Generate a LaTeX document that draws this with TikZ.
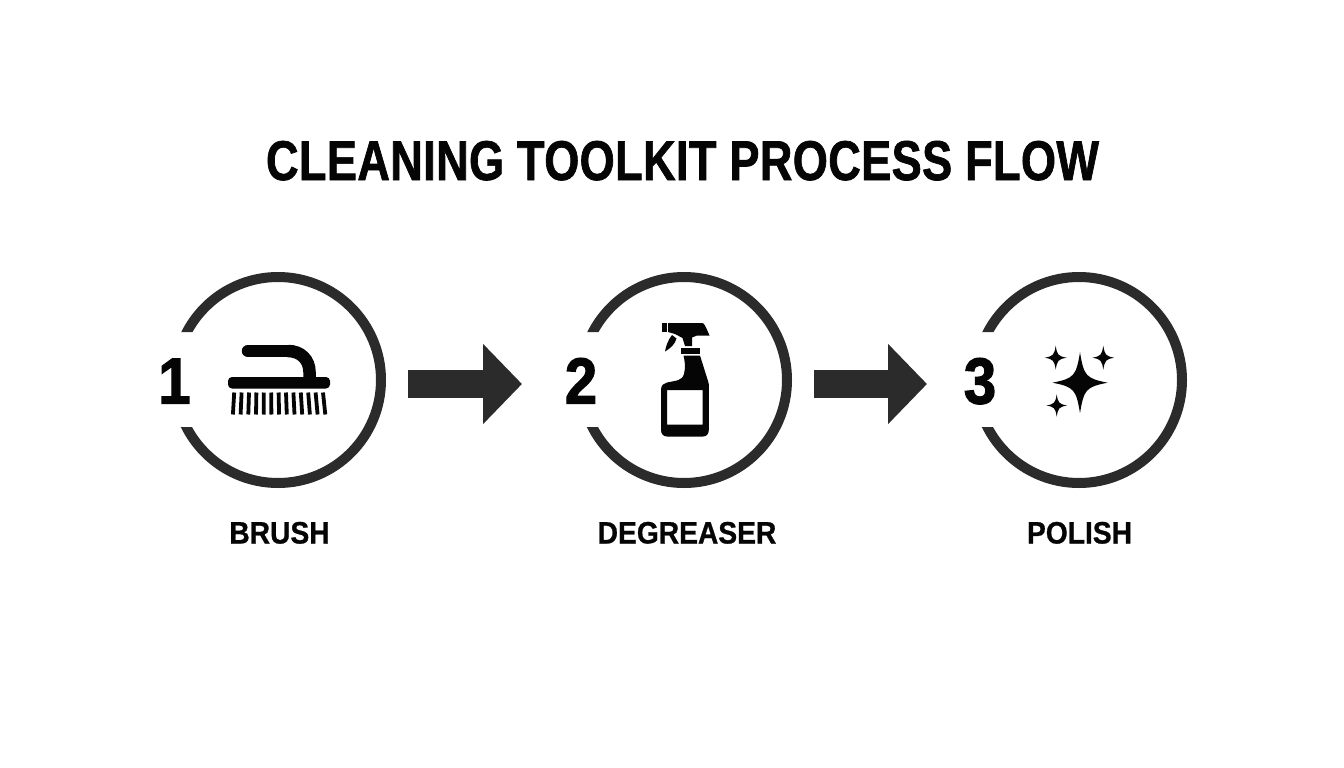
\documentclass[tikz,border=0pt]{standalone}
\usepackage{fontspec}
\usetikzlibrary{arrows.meta}
\newfontfamily\titlefont[FakeStretch=0.805,FakeBold=1.2,LetterSpace=0.7]{Liberation Sans Bold}
\newfontfamily\labelfont[FakeStretch=0.91,FakeBold=0.8]{Liberation Sans Bold}
\newfontfamily\numfont[FakeStretch=0.89,FakeBold=2]{Liberation Sans Bold}
\definecolor{ink}{HTML}{2B2B2B}
\definecolor{iconblack}{HTML}{050505}
\tikzset{
  ringslot/.style={circle,minimum size=216pt,inner sep=0pt,outer sep=0pt},
  ringline/.style={draw=ink,line width=10pt},
  flowarrow/.style={draw=ink,line width=28.5pt,-{Triangle[length=39pt,width=78pt,color=ink]}},
  titletext/.style={anchor=base,inner sep=0pt,text=iconblack,font=\titlefont\fontsize{56}{60}\selectfont},
  steplabel/.style={anchor=base,inner sep=0pt,text=iconblack,font=\labelfont\fontsize{31}{34}\selectfont},
  stepnum/.style={anchor=base,inner sep=0pt,text=iconblack,font=\numfont\fontsize{65}{70}\selectfont},
  iconfill/.style={fill=iconblack,draw=none},
}
\newcommand{\gapring}[1]{%
  \begin{scope}
    \clip (#1,260) -- (#1-125,260) -- (#1-125,332) -- (#1,332) -- (#1,427) -- (#1-125,427) -- (#1-125,500) -- (#1+125,500) -- (#1+125,260) -- cycle;
    \draw[ringline] (#1,380) circle[radius=103];
  \end{scope}}
\newcommand{\sparkleshape}[4]{% cx cy rx ry
  \fill[iconfill] (#1,#2-#4)
    .. controls (#1+0.14*#3,#2-0.22*#4) and (#1+0.22*#3,#2-0.14*#4) .. (#1+#3,#2)
    .. controls (#1+0.22*#3,#2+0.14*#4) and (#1+0.14*#3,#2+0.22*#4) .. (#1,#2+#4)
    .. controls (#1-0.14*#3,#2+0.22*#4) and (#1-0.22*#3,#2+0.14*#4) .. (#1-#3,#2)
    .. controls (#1-0.22*#3,#2-0.14*#4) and (#1-0.14*#3,#2-0.22*#4) .. (#1,#2-#4) -- cycle;}
\begin{document}
\begin{tikzpicture}[x=1pt,y=-1pt]
\useasboundingbox (0,0) rectangle (1344,768);
\fill[white] (0,0) rectangle (1344,768);

\node[titletext] (title) at (682.5,180) {CLEANING TOOLKIT PROCESS FLOW};

% step rings
\node[ringslot] (c1) at (278,380) {};
\node[ringslot] (c2) at (684,380) {};
\node[ringslot] (c3) at (1079,380) {};
\gapring{278}
\gapring{684}
\gapring{1079}

% numbers
\node[stepnum] (n1) at (174.5,403.5) {1};
\node[stepnum] (n2) at (581,403.5) {2};
\node[stepnum] (n3) at (980,403.5) {3};

% labels
\node[steplabel] (l1) at (279.5,543.5) {BRUSH};
\node[steplabel] (l2) at (687,543.5) {DEGREASER};
\node[steplabel] (l3) at (1079.5,543.5) {POLISH};

% connectors
\coordinate (a1) at (408,384);
\coordinate (b1) at (522,384);
\coordinate (a2) at (814,384);
\coordinate (b2) at (927,384);
\draw[flowarrow] (a1) -- (b1);
\draw[flowarrow] (a2) -- (b2);

% brush icon
\fill[iconfill,rounded corners=4pt] (228,377) rectangle (330,388.5);
\draw[iconblack,line width=12.5pt,line cap=round] (248,351) -- (288,351);
\draw[iconblack,line width=12.5pt] (288,351) .. controls (301,351) and (309.5,360) .. (309.5,372) -- (309.5,380);
\foreach \i in {0,...,12}{
  \draw[iconblack,line width=3.8pt]
    ({234.2+\i*7.4},392.5) -- ({232.9+\i*7.7},414.5);
}

% spray bottle icon
\fill[iconfill] (661.5,323) rectangle (666.8,332);
\fill[iconfill] (668,323) -- (702,323) .. controls (704,323) and (705,325) .. (709.5,335.5)
  -- (697,335.5) -- (692,337.5) -- (692,346) -- (685,346) -- (682.5,338) -- (675,334) -- (668,332) -- cycle;
\fill[iconfill] (672,335) .. controls (668,340) and (666,346) .. (665,351.5)
  .. controls (671,348) and (675,344) .. (676.5,338.5) -- cycle;
\fill[iconfill] (680.7,347.5) rectangle (700,353.5);
\fill[iconfill,even odd rule]
  (683.5,355.5) -- (700,355.5) -- (708,381) -- (708.8,384) -- (708.8,430)
  .. controls (708.8,434) and (706.5,436.5) .. (703,436.5)
  -- (667,436.5) .. controls (663.5,436.5) and (661,434) .. (661,430)
  -- (661,390) .. controls (661,385) and (664,383) .. (667,382.5)
  .. controls (676,380.5) and (682,381) .. (684,374)
  .. controls (686,367) and (684.5,360) .. (683.5,355.5) -- cycle
  (667,390) rectangle (702.5,424.5);

% sparkles icon
\sparkleshape{1080}{382.7}{27.5}{30.5}
\sparkleshape{1055.7}{357.7}{10.8}{12}
\sparkleshape{1103.3}{357.7}{10.8}{12}
\sparkleshape{1056.7}{405.5}{10.2}{11.2}
\end{tikzpicture}
\end{document}
